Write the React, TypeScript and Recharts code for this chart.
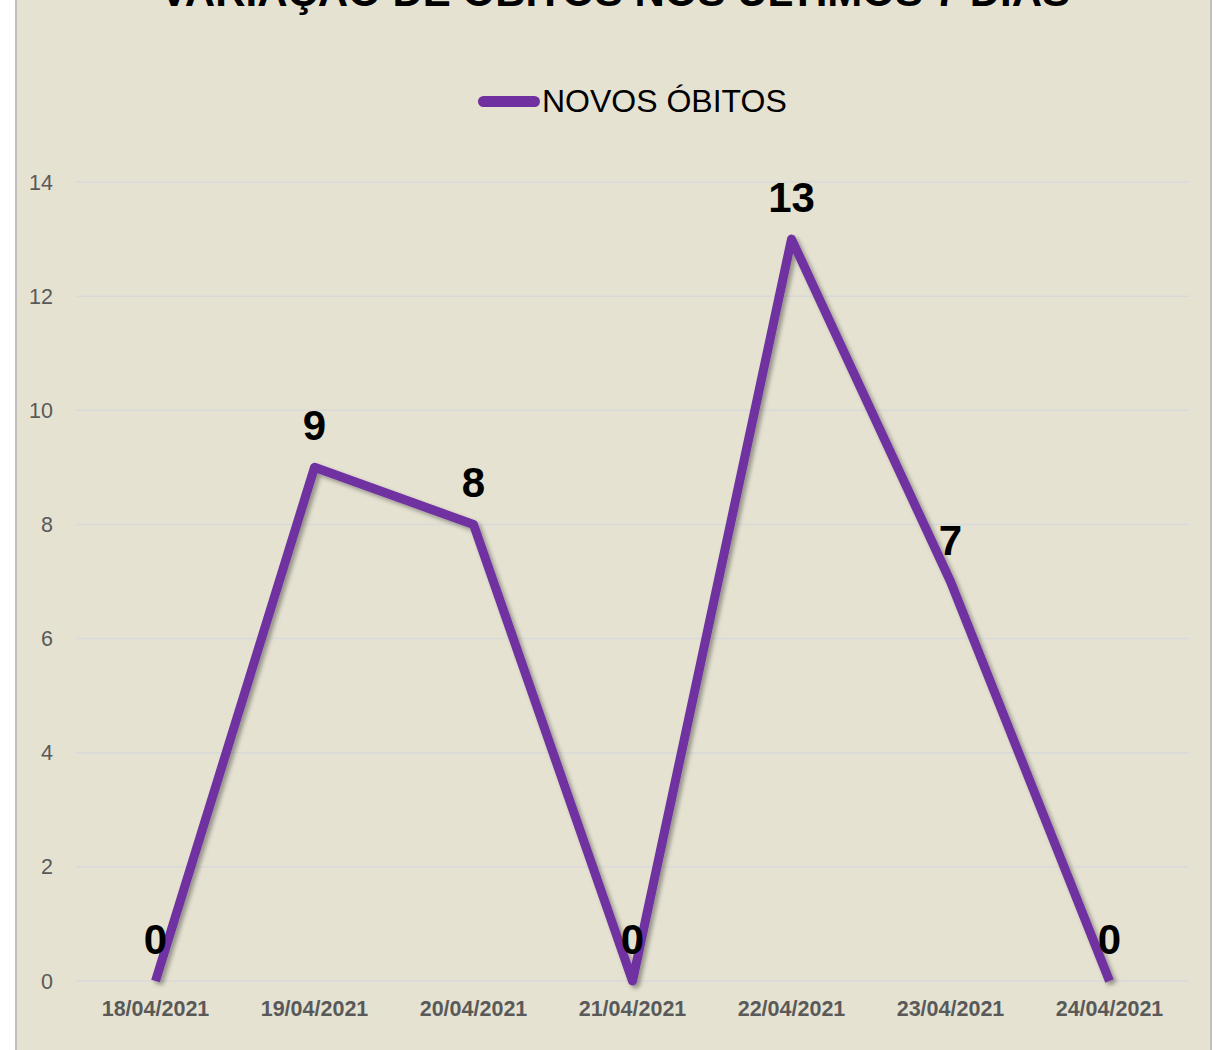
import { LineChart, Line, XAxis, YAxis, CartesianGrid, LabelList } from 'recharts';

// dates on the x axis
const dias = ['18/04/2021', '19/04/2021', '20/04/2021', '21/04/2021', '22/04/2021', '23/04/2021', '24/04/2021'];
// new deaths per day
const novosObitos = [0, 9, 8, 0, 13, 7, 0];
const yTicks = [0, 2, 4, 6, 8, 10, 12, 14];
const edgeTicks = [0, 1, 2, 3, 4, 5, 6, 7];

const data = dias.map((dia, i) => ({ dia, obitos: novosObitos[i] }));

const FONT = '"Liberation Sans", Arial, sans-serif';
const PURPLE = '#7030A0';

export default function App() {
  return (
    <div style={{ position: 'absolute', left: 0, top: 0, width: 1216, height: 1050, overflow: 'hidden', background: '#fff' }}>
      <div
        style={{
          position: 'absolute',
          left: 15,
          top: -60,
          width: 1193,
          height: 1200,
          background: '#E5E2D2',
          border: '2px solid #BFBFBF',
        }}
      />
      <div
        style={{
          position: 'absolute',
          left: 0,
          top: -29,
          width: 1230,
          textAlign: 'center',
          fontFamily: FONT,
          fontWeight: 'bold',
          fontSize: 42,
          lineHeight: '42px',
          color: '#000',
        }}
      >
        VARIAÇÃO DE ÓBITOS NOS ÚLTIMOS 7 DIAS
      </div>
      {/* legend */}
      <div
        style={{
          position: 'absolute',
          left: 478,
          top: 80,
          display: 'flex',
          alignItems: 'center',
          fontFamily: FONT,
          height: 42,
        }}
      >
        <span style={{ display: 'inline-block', width: 62, height: 11, borderRadius: 6, background: PURPLE, marginRight: 2 }} />
        <span style={{ fontSize: 32, color: '#000' }}>NOVOS ÓBITOS</span>
      </div>
      <div style={{ position: 'absolute', left: 0, top: 0 }}>
        <LineChart width={1216} height={1050} data={data} margin={{ top: 182, right: 27, bottom: 0, left: 0 }}>
          <defs>
            <filter id="sombra" x="-10%" y="-10%" width="120%" height="120%">
              <feDropShadow dx="3" dy="3" stdDeviation="2" floodColor="#000" floodOpacity="0.35" />
            </filter>
          </defs>
          <CartesianGrid vertical={false} stroke="#D9D9D9" strokeWidth={1.5} xAxisId="cat" />
          <XAxis
            xAxisId="edge"
            type="number"
            domain={[0, 7]}
            ticks={edgeTicks}
            height={0}
            tick={false}
            stroke="#D9D9D9"
            strokeWidth={1.5}
            tickSize={6}
          />
          <XAxis
            xAxisId="cat"
            dataKey="dia"
            scale="band"
            height={69}
            axisLine={false}
            tickLine={false}
            tickMargin={14}
            tick={{ fill: '#595959', fontSize: 21.5, fontWeight: 'bold', fontFamily: FONT }}
          />
          <YAxis
            domain={[0, 14]}
            ticks={yTicks}
            width={76}
            axisLine={false}
            tickLine={false}
            tickSize={6}
            tickMargin={17}
            tick={{ fill: '#595959', fontSize: 21.5, fontFamily: FONT }}
          />
          <Line
            xAxisId="cat"
            type="linear"
            dataKey="obitos"
            stroke={PURPLE}
            strokeWidth={9}
            strokeLinejoin="round"
            dot={false}
            filter="url(#sombra)"
            isAnimationActive={false}
          >
            <LabelList
              dataKey="obitos"
              position="top"
              offset={27}
              style={{ fill: '#000', fontSize: 42, fontWeight: 'bold', fontFamily: FONT }}
            />
          </Line>
        </LineChart>
      </div>
    </div>
  );
}
